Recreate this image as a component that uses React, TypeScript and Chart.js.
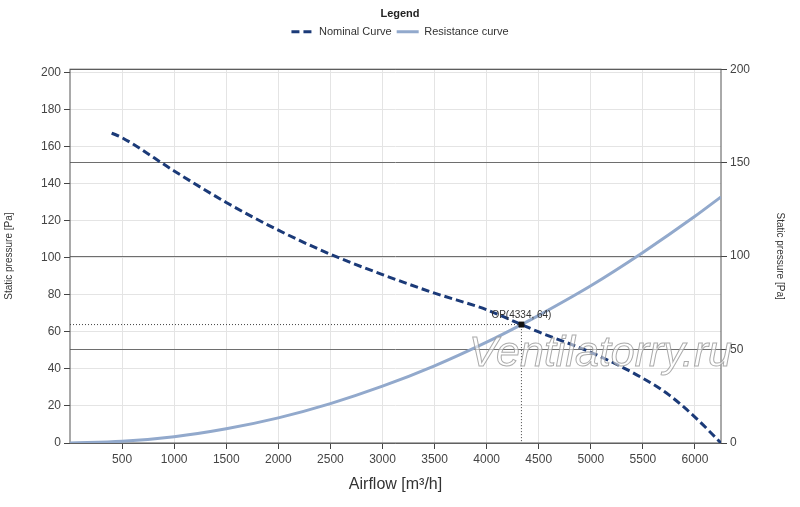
import { useEffect, useRef } from 'react';
import { Chart, registerables } from 'chart.js';

Chart.register(...registerables);

// Fan curve
const nominalFlow = [400, 500, 1000, 1500, 2000, 2500, 3000, 3500, 4000, 4334, 4500, 5000, 5500, 5750, 6000, 6250];
const nominalPressure = [167.5, 165, 147, 130, 115, 102, 91, 81, 72, 64, 60, 49, 35, 26, 14, 0];

// System resistance curve
const resistanceFlow = [0, 500, 1000, 1500, 2000, 2500, 3000, 3500, 4000, 4334, 4500, 5000, 5500, 6000, 6250];
const resistancePressure = [0, 0.9, 3.4, 7.7, 13.6, 21.3, 30.7, 41.7, 54.5, 64, 69, 85, 103, 122.5, 133];

// Operating point
const opFlow = 4334;
const opPressure = 64;

const xTicks = [500, 1000, 1500, 2000, 2500, 3000, 3500, 4000, 4500, 5000, 5500, 6000];
const leftTicks = [0, 20, 40, 60, 80, 100, 120, 140, 160, 180, 200];
const rightTicks = [0, 50, 100, 150, 200];

const FONT = "'Liberation Sans', Arial, sans-serif";

const framePlugin = {
  id: 'frame',
  beforeDatasetsDraw(chart: any) {
    const { ctx, chartArea } = chart;
    ctx.save();
    ctx.strokeStyle = '#555';
    ctx.lineWidth = 1;
    ctx.strokeRect(chartArea.left, chartArea.top, chartArea.right - chartArea.left, chartArea.bottom - chartArea.top);
    ctx.restore();
  },
  afterDatasetsDraw(chart: any) {
    const { ctx, chartArea, scales } = chart;
    const px = scales.x.getPixelForValue(opFlow);
    const py = scales.y.getPixelForValue(opPressure);
    ctx.save();
    ctx.font = `10px ${FONT}`;
    ctx.fillStyle = '#333';
    ctx.textAlign = 'center';
    ctx.textBaseline = 'bottom';
    ctx.fillText(`OP(${opFlow}, ${opPressure})`, px, py - 4);

    // watermark
    ctx.font = `italic 43px ${FONT}`;
    ctx.textAlign = 'left';
    ctx.textBaseline = 'alphabetic';
    ctx.lineWidth = 1;
    ctx.fillStyle = 'rgba(255,255,255,0.55)';
    ctx.strokeStyle = 'rgba(150,150,150,0.8)';
    const wx = chartArea.left + 399;
    const wy = chartArea.bottom - 77;
    ctx.fillText('Ventilatorry.ru', wx, wy);
    ctx.strokeText('Ventilatorry.ru', wx, wy);
    ctx.restore();
  },
};

export default function App() {
  const canvasRef = useRef<HTMLCanvasElement>(null);
  const chartRef = useRef<Chart | null>(null);

  useEffect(() => {
    document.body.style.margin = '0';
    const ctx = canvasRef.current?.getContext('2d');
    if (!ctx) return;
    if (chartRef.current) chartRef.current.destroy();

    chartRef.current = new Chart(ctx, {
      type: 'line',
      data: {
        datasets: [
          {
            label: 'Nominal Curve',
            data: nominalFlow.map((x, i) => ({ x, y: nominalPressure[i] })),
            borderColor: '#1b3a78',
            backgroundColor: '#1b3a78',
            borderWidth: 3,
            borderDash: [8, 4],
            pointRadius: 0,
            pointStyle: 'line',
            cubicInterpolationMode: 'monotone',
            order: 2,
          },
          {
            label: 'Resistance curve',
            data: resistanceFlow.map((x, i) => ({ x, y: resistancePressure[i] })),
            borderColor: '#92a9cc',
            backgroundColor: '#92a9cc',
            borderWidth: 3,
            pointRadius: 0,
            pointStyle: 'line',
            cubicInterpolationMode: 'monotone',
            order: 3,
          },
          {
            label: 'OP',
            data: [{ x: opFlow, y: opPressure }],
            showLine: false,
            pointStyle: 'rect',
            pointRadius: 3.5,
            pointBackgroundColor: '#111',
            pointBorderColor: '#111',
            order: 0,
          },
          {
            label: 'guide',
            data: [
              { x: 0, y: opPressure },
              { x: opFlow, y: opPressure },
              { x: opFlow, y: 0 },
            ],
            borderColor: '#444',
            borderWidth: 1,
            borderDash: [1, 2],
            pointRadius: 0,
            order: 1,
          },
        ],
      },
      options: {
        animation: false,
        responsive: true,
        maintainAspectRatio: false,
        layout: { padding: { top: 6, left: 0, right: 0, bottom: 0 } },
        plugins: {
          tooltip: { enabled: false },
          legend: {
            display: true,
            position: 'top',
            title: {
              display: true,
              text: 'Legend',
              color: '#222',
              font: { family: FONT, size: 11, weight: 'bold' },
              padding: { top: 2, bottom: 0 },
            },
            labels: {
              color: '#333',
              font: { family: FONT, size: 11 },
              usePointStyle: true,
              pointStyleWidth: 22,
              boxHeight: 6,
              padding: 5,
              filter: (item: any) => item.datasetIndex < 2,
              generateLabels: (chart: any) =>
                Chart.defaults.plugins.legend.labels.generateLabels(chart).map((item: any) => ({
                  ...item,
                  lineDash: (chart.data.datasets[item.datasetIndex] as any).borderDash || [],
                })),
            },
          },
        },
        scales: {
          x: {
            type: 'linear',
            min: 0,
            max: 6250,
            afterBuildTicks: (s: any) => {
              s.ticks = xTicks.map((v) => ({ value: v }));
            },
            afterFit: (s: any) => {
              s.height = 64;
            },
            ticks: {
              color: '#444',
              font: { family: FONT, size: 12 },
              padding: 3,
              maxRotation: 0,
              callback: (v: any) => String(v),
            },
            grid: { color: '#e4e4e4', tickColor: '#444', tickLength: 6 },
            border: { display: false },
            title: {
              display: true,
              text: 'Airflow [m³/h]',
              color: '#333',
              font: { family: FONT, size: 16 },
              padding: { top: 0, bottom: 13 },
            },
          },
          // spacer between legend and plot
          xTop: {
            type: 'linear',
            position: 'top',
            min: 0,
            max: 6250,
            afterFit: (s: any) => {
              s.height = 22;
            },
            ticks: { display: false },
            grid: { display: false },
            border: { display: false },
          },
          y: {
            type: 'linear',
            position: 'left',
            min: 0,
            max: 202,
            afterBuildTicks: (s: any) => {
              s.ticks = leftTicks.map((v) => ({ value: v }));
            },
            afterFit: (s: any) => {
              s.width = 70;
            },
            ticks: { color: '#444', font: { family: FONT, size: 12 }, padding: 3 },
            grid: { color: '#e4e4e4', tickColor: '#444', tickLength: 6 },
            border: { display: false },
            title: {
              display: true,
              text: 'Static pressure [Pa]',
              color: '#333',
              font: { family: FONT, size: 10 },
              padding: { top: 3, bottom: 0 },
            },
          },
          y1: {
            type: 'linear',
            position: 'right',
            min: 0,
            max: 200,
            afterBuildTicks: (s: any) => {
              s.ticks = rightTicks.map((v) => ({ value: v }));
            },
            afterFit: (s: any) => {
              s.width = 79;
            },
            ticks: { color: '#444', font: { family: FONT, size: 12 }, padding: 3 },
            grid: { color: '#6e6e6e', tickColor: '#444', tickLength: 6 },
            border: { display: false },
            title: {
              display: true,
              text: 'Static pressure [Pa]',
              color: '#333',
              font: { family: FONT, size: 10 },
              padding: { top: 14, bottom: 0 },
            },
          },
        },
      },
      plugins: [framePlugin],
    });

    return () => {
      if (chartRef.current) {
        chartRef.current.destroy();
        chartRef.current = null;
      }
    };
  }, []);

  return (
    <div style={{ width: 800, height: 507, position: 'relative', background: '#fff' }}>
      <canvas ref={canvasRef} />
    </div>
  );
}
